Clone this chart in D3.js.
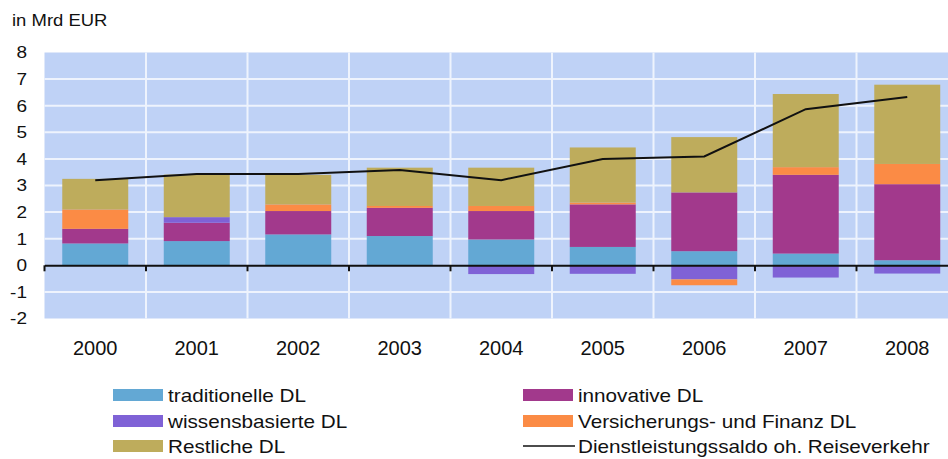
<!DOCTYPE html>
<html>
<head>
<meta charset="utf-8">
<script src="https://cdn.jsdelivr.net/npm/d3@7"></script>
<style>
  html, body { margin: 0; padding: 0; background: #fff; }
  svg { display: block; font-family: "Liberation Sans", Arial, sans-serif; }
</style>
</head>
<body>
<svg id="chart"></svg>
<script>
const width = 948;
const height = 459;

// data (Mrd EUR)
const years = ['2000', '2001', '2002', '2003', '2004', '2005', '2006', '2007', '2008'];
const traditionelle = [0.82, 0.91, 1.16, 1.10, 0.97, 0.69, 0.53, 0.44, 0.19];
const innovative    = [0.55, 0.69, 0.88, 1.06, 1.07, 1.60, 2.21, 2.96, 2.86];
const wissensbasiert = [0.00, 0.21, 0.00, 0.00, -0.33, -0.32, -0.53, -0.46, -0.31];
const versicherung  = [0.73, 0.00, 0.25, 0.07, 0.19, 0.07, -0.22, 0.29, 0.76];
const restliche     = [1.15, 1.60, 1.11, 1.44, 1.44, 2.07, 2.08, 2.75, 2.98];
const saldo         = [3.20, 3.43, 3.43, 3.58, 3.20, 4.00, 4.09, 5.87, 6.33];
const yTicks = [-2, -1, 0, 1, 2, 3, 4, 5, 6, 7, 8];

const seriesNames = ['traditionelle DL', 'innovative DL', 'wissensbasierte DL', 'Versicherungs- und Finanz DL', 'Restliche DL'];
const seriesValues = [traditionelle, innovative, wissensbasiert, versicherung, restliche];
const colors = ['#63a8d4', '#a2398c', '#7f62d6', '#fb8b45', '#beac5c'];

const rows = years.map((y, i) => {
  const r = { year: y };
  seriesNames.forEach((n, k) => r[n] = seriesValues[k][i]);
  return r;
});

const plot = { left: 44.5, top: 52.5, bottom: 318.5, band: 101.5 };
plot.right = plot.left + plot.band * years.length;

const svg = d3.select('#chart').attr('width', width).attr('height', height);

const x = d3.scaleBand().domain(years).range([plot.left, plot.right]).paddingInner(0.35).paddingOuter(0.175);
const xBand = d3.scaleBand().domain(years).range([plot.left, plot.right]);
const y = d3.scaleLinear().domain([-2, 8]).range([plot.bottom, plot.top]);

// background + grid
svg.append('rect')
  .attr('x', plot.left).attr('y', plot.top)
  .attr('width', plot.right - plot.left).attr('height', plot.bottom - plot.top)
  .attr('fill', '#bfd2f6');

svg.append('g').selectAll('line').data(yTicks.filter(t => t > -2 && t < 8 && t !== 0))
  .enter().append('line')
    .attr('x1', plot.left).attr('x2', plot.right)
    .attr('y1', d => y(d)).attr('y2', d => y(d))
    .attr('stroke', '#eef3fd').attr('stroke-width', 2);

svg.append('g').selectAll('line').data(years.slice(1))
  .enter().append('line')
    .attr('x1', d => xBand(d)).attr('x2', d => xBand(d))
    .attr('y1', plot.top).attr('y2', plot.bottom)
    .attr('stroke', '#eef3fd').attr('stroke-width', 2);

// stacked bars
const stack = d3.stack().keys(seriesNames).offset(d3.stackOffsetDiverging);
const layers = stack(rows);

svg.append('g').selectAll('g').data(layers)
  .enter().append('g')
    .attr('fill', (d, i) => colors[i])
  .selectAll('rect').data(d => d)
  .enter().append('rect')
    .attr('x', d => x(d.data.year))
    .attr('width', x.bandwidth())
    .attr('y', d => y(Math.max(d[0], d[1])))
    .attr('height', d => Math.abs(y(d[0]) - y(d[1])));

// x axis at zero
const xAxis = svg.append('g')
  .attr('transform', `translate(0,${y(0)})`)
  .call(d3.axisBottom(xBand).tickSize(0).tickFormat(''));
xAxis.select('.domain').attr('stroke', '#111').attr('stroke-width', 2);
svg.append('g').selectAll('line').data(years)
  .enter().append('line')
    .attr('x1', d => xBand(d)).attr('x2', d => xBand(d))
    .attr('y1', y(0)).attr('y2', y(0) + 6)
    .attr('stroke', '#111').attr('stroke-width', 2);

// line
const line = d3.line().x((d, i) => xBand(years[i]) + xBand.bandwidth() / 2).y(d => y(d));
svg.append('path').datum(saldo)
  .attr('d', line)
  .attr('fill', 'none').attr('stroke', '#111').attr('stroke-width', 2);

// y labels
const yAxis = svg.append('g')
  .attr('transform', 'translate(27,0)')
  .call(d3.axisLeft(y).tickValues(yTicks).tickSize(0).tickPadding(0).tickFormat(d => String(d)));
yAxis.select('.domain').remove();
yAxis.selectAll('text')
  .attr('font-size', 17).attr('fill', '#111')
  .attr('font-family', '"Liberation Sans", Arial, sans-serif')
  .attr('transform', 'scale(1.12,1)');

// x labels
svg.append('g').selectAll('text').data(years)
  .enter().append('text')
    .attr('x', d => xBand(d) + xBand.bandwidth() / 2)
    .attr('y', 355)
    .attr('text-anchor', 'middle')
    .attr('font-size', 20).attr('fill', '#111')
    .text(d => d);

// title
svg.append('text')
  .attr('transform', 'translate(12,26) scale(1.12,1)')
  .attr('font-size', 16.5).attr('fill', '#111')
  .text('in Mrd EUR');

// legend
const legendItems = [
  { name: 'traditionelle DL', color: colors[0], col: 0, row: 0 },
  { name: 'wissensbasierte DL', color: colors[2], col: 0, row: 1 },
  { name: 'Restliche DL', color: colors[4], col: 0, row: 2 },
  { name: 'innovative DL', color: colors[1], col: 1, row: 0 },
  { name: 'Versicherungs- und Finanz DL', color: colors[3], col: 1, row: 1 },
  { name: 'Dienstleistungssaldo oh. Reiseverkehr', color: null, col: 1, row: 2 }
];
const legendX = [113, 523];
const legendY = [395, 421, 446];

const leg = svg.append('g').selectAll('g').data(legendItems)
  .enter().append('g')
    .attr('transform', d => `translate(${legendX[d.col]},${legendY[d.row]})`);

leg.filter(d => d.color).append('rect')
  .attr('x', 0).attr('y', -6).attr('width', 50).attr('height', 12)
  .attr('fill', d => d.color);
leg.filter(d => !d.color).append('line')
  .attr('x1', 0).attr('x2', 52).attr('y1', 0).attr('y2', 0)
  .attr('stroke', '#111').attr('stroke-width', 1.5);

leg.append('text')
  .attr('transform', 'translate(55,6.5) scale(1.15,1)')
  .attr('font-size', 18).attr('fill', '#111')
  .text(d => d.name);
</script>
</body>
</html>
